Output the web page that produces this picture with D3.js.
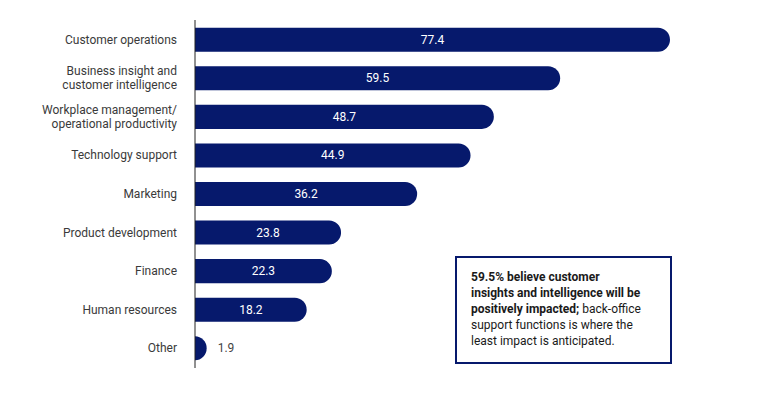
<!DOCTYPE html>
<html>
<head>
<meta charset="utf-8">
<script src="https://cdn.jsdelivr.net/npm/d3@7"></script>
<style>
    body { margin: 0; background: #fff; }
    text { font-family: Roboto, "Open Sans", sans-serif; }
</style>
</head>
<body>
<svg id="chart" width="758" height="393"></svg>
<script>
var categories = [
    ["Customer operations"],
    ["Business insight and", "customer intelligence"],
    ["Workplace management/", "operational productivity"],
    ["Technology support"],
    ["Marketing"],
    ["Product development"],
    ["Finance"],
    ["Human resources"],
    ["Other"]
];
var values = [77.4, 59.5, 48.7, 44.9, 36.2, 23.8, 22.3, 18.2, 1.9];
var noteLines = [
    { text: "59.5% believe customer", bold: true },
    { text: "insights and intelligence will be", bold: true },
    { text: "positively impacted;", bold: true, rest: " back-office" },
    { text: "support functions is where the", bold: false },
    { text: "least impact is anticipated.", bold: false }
];

var navy = "#06196c";
var svg = d3.select("#chart");
var x0 = 195;

var x = d3.scaleLinear().domain([0, 77.4]).range([x0, 670]);
var y = d3.scaleBand()
    .domain(d3.range(values.length))
    .range([20, 368])
    .paddingInner(0.377)
    .paddingOuter(0.2);

// bars: square at the axis, rounded at the end
function barPath(d, i) {
    var xs = x0, xe = x(d), top = y(i), h = y.bandwidth();
    var r = Math.min(h / 2, xe - xs);
    return "M" + xs + "," + top +
        "H" + (xe - r) +
        "A" + r + "," + (h / 2) + " 0 0 1 " + (xe - r) + "," + (top + h) +
        "H" + xs + "Z";
}

svg.selectAll(".bar")
    .data(values)
    .enter().append("path")
    .attr("class", "bar")
    .attr("d", barPath)
    .attr("fill", navy);

// vertical axis line
svg.append("line")
    .attr("x1", x0).attr("x2", x0)
    .attr("y1", 20).attr("y2", 368)
    .attr("stroke", "#222")
    .attr("stroke-width", 1);

// category labels
var lab = svg.selectAll(".cat")
    .data(categories)
    .enter().append("text")
    .attr("class", "cat")
    .attr("text-anchor", "end")
    .attr("font-size", "12px")
    .attr("fill", "#3a3a3a");
lab.each(function (lines, i) {
    var cy = y(i) + y.bandwidth() / 2;
    var t = d3.select(this);
    lines.forEach(function (l, j) {
        t.append("tspan")
            .attr("x", 177)
            .attr("y", cy + 4 + (j - (lines.length - 1) / 2) * 14)
            .text(l);
    });
});

// value labels
svg.selectAll(".val")
    .data(values)
    .enter().append("text")
    .attr("class", "val")
    .attr("font-size", "12px")
    .attr("text-anchor", function (d) { return d < 5 ? "start" : "middle"; })
    .attr("x", function (d) { return d < 5 ? x(d) + 11 : (x0 + x(d)) / 2; })
    .attr("y", function (d, i) { return y(i) + y.bandwidth() / 2 + 4; })
    .attr("fill", function (d) { return d < 5 ? "#444" : "#fff"; })
    .text(function (d) { return d.toFixed(1); });

// annotation box
svg.append("rect")
    .attr("x", 456).attr("y", 257)
    .attr("width", 215).attr("height", 106)
    .attr("fill", "#fff")
    .attr("stroke", navy)
    .attr("stroke-width", 2);

var note = svg.append("text")
    .attr("font-size", "12px")
    .attr("fill", "#1a1a1a");
noteLines.forEach(function (l, j) {
    note.append("tspan")
        .attr("x", 471)
        .attr("y", 281 + j * 16)
        .attr("font-weight", l.bold ? "bold" : "normal")
        .text(l.text);
    if (l.rest) {
        note.append("tspan").attr("font-weight", "normal").text(l.rest);
    }
});
</script>
</body>
</html>
